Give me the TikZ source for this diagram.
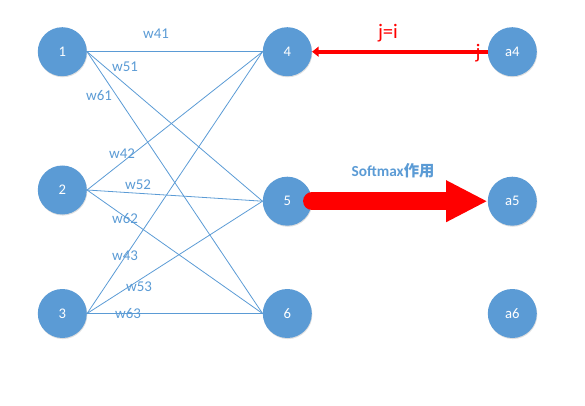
\documentclass[tikz,border=0pt]{standalone}
\usepackage{fontspec}
\setmainfont{Carlito}
\newfontfamily\cjkfont{Noto Sans CJK SC}
\usetikzlibrary{arrows.meta,shadows}
\definecolor{nodeblue}{HTML}{5B9BD5}
\definecolor{linkblue}{HTML}{5B9BD5}
\begin{document}
\begin{tikzpicture}[x=0.75pt,y=-0.75pt,
  neuron/.style={circle,fill=nodeblue,minimum size=36.75pt,inner sep=0pt,text=white,
    font=\fontsize{11}{13}\selectfont,
    drop shadow={opacity=0.25,shadow xshift=0.4pt,shadow yshift=-0.8pt}},
  link/.style={draw=linkblue,line width=0.6pt},
  wlabel/.style={text=linkblue,font=\fontsize{11.2}{13}\selectfont,inner sep=0pt},
  redlabel/.style={text=red,font=\fontsize{15.5}{17}\selectfont,inner sep=0pt}]
\useasboundingbox (0,0) rectangle (585,406);
% neurons
\node[neuron] (n1) at (62.3,51.7) {1};
\node[neuron] (n2) at (62.3,190) {2};
\node[neuron] (n3) at (62.3,313.5) {3};
\node[neuron] (n4) at (287.3,51.7) {4};
\node[neuron] (n5) at (287.3,201.2) {5};
\node[neuron] (n6) at (287.3,313.5) {6};
\node[neuron] (a4) at (512.3,51.7) {a4};
\node[neuron] (a5) at (512.3,201.2) {a5};
\node[neuron] (a6) at (512.3,313.5) {a6};
% connections
\foreach \s in {n1,n2,n3}
  \foreach \t in {n4,n5,n6}
    \draw[link] (\s.east) -- (\t.west);
% weight labels
\node[wlabel] (w41) at (156,34) {w41};
\node[wlabel] (w51) at (125,67) {w51};
\node[wlabel] (w61) at (99,96) {w61};
\node[wlabel] (w42) at (122,153.5) {w42};
\node[wlabel] (w52) at (138,185) {w52};
\node[wlabel] (w62) at (125,219) {w62};
\node[wlabel] (w43) at (125,256) {w43};
\node[wlabel] (w53) at (139,287) {w53};
\node[wlabel] (w63) at (128,314) {w63};
% red arrows
\draw[red,line width=3pt,-{Triangle[length=5pt,width=7.5pt]}] (a4.west) -- (n4.east);
\node[redlabel] (jeqi) at (388,33) {j=i};
\node[redlabel] (jj) at (478,53) {j};
\draw[red,line width=13.5pt,line cap=round,-{Triangle[length=31pt,width=29pt]}] (n5.east) -- (a5.west);
\node[text=linkblue,font=\fontsize{11.5}{13}\selectfont\bfseries,inner sep=0pt] (soft) at (393,171) {Softmax{\cjkfont\bfseries 作用}};
\end{tikzpicture}
\end{document}
